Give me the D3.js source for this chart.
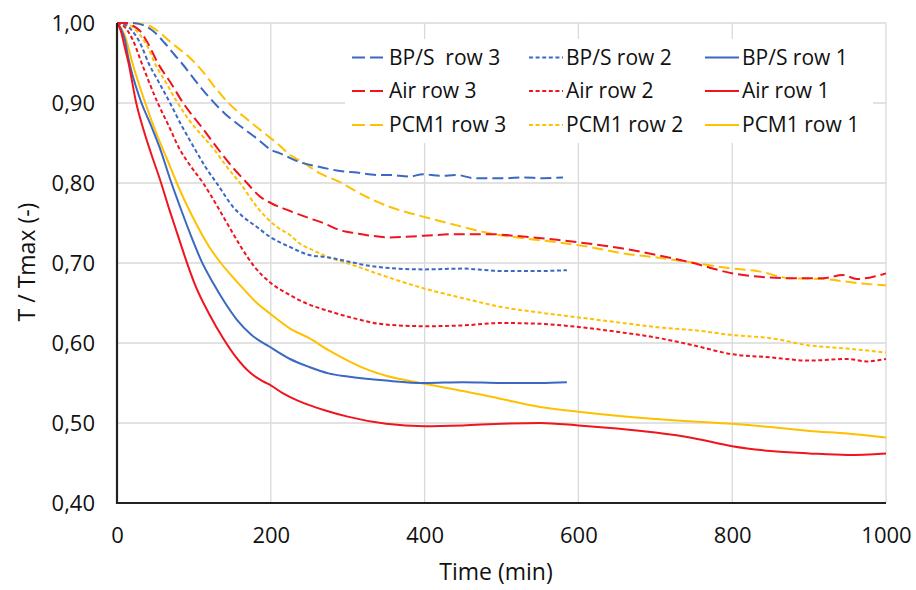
<!DOCTYPE html>
<html>
<head>
<meta charset="utf-8">
<script src="https://cdn.jsdelivr.net/npm/d3@7"></script>
<style>
  html, body { margin: 0; padding: 0; background: #fff; }
  svg { display: block; font-family: "Open Sans", "Noto Sans", sans-serif; }
</style>
</head>
<body>
<svg id="chart" width="916" height="590"></svg>
<script>
// ---------- DATA ----------
const xTicks = [0, 200, 400, 600, 800, 1000];
const yTicks = [0.40, 0.50, 0.60, 0.70, 0.80, 0.90, 1.00];

// BP/S row 3
const bps3T = [0, 20, 35, 47, 62, 75, 84, 101, 119, 140, 162, 184, 201, 212, 238, 264, 290, 312, 340, 355, 380, 398, 420, 442, 465, 485, 505, 528, 555, 580];
const bps3V = [1.0, 1.0, 0.997, 0.99, 0.975, 0.96, 0.95, 0.929, 0.908, 0.887, 0.87, 0.854, 0.841, 0.837, 0.826, 0.82, 0.815, 0.813, 0.81, 0.81, 0.808, 0.811, 0.809, 0.81, 0.806, 0.806, 0.806, 0.807, 0.806, 0.807];
// BP/S row 2
const bps2T = [0, 10, 20, 30, 41, 55, 69, 85, 101, 115, 131, 151, 165, 182, 200, 225, 250, 275, 300, 325, 350, 400, 450, 500, 550, 585];
const bps2V = [1.0, 0.998, 0.99, 0.975, 0.95, 0.925, 0.90, 0.87, 0.843, 0.82, 0.798, 0.77, 0.757, 0.745, 0.732, 0.72, 0.71, 0.707, 0.702, 0.697, 0.694, 0.692, 0.693, 0.69, 0.69, 0.691];
// BP/S row 1
const bps1T = [0, 5, 10, 15, 30, 45, 56, 69, 84, 97, 110, 125, 140, 156, 175, 199, 225, 250, 275, 300, 350, 400, 450, 500, 550, 585];
const bps1V = [1.0, 0.993, 0.98, 0.955, 0.905, 0.87, 0.843, 0.805, 0.765, 0.732, 0.702, 0.675, 0.651, 0.629, 0.61, 0.595, 0.58, 0.57, 0.562, 0.558, 0.553, 0.55, 0.551, 0.55, 0.55, 0.551];

// Air row 3
const air3T = [0, 10, 20, 30, 40, 53, 70, 86, 110, 131, 150, 169, 186, 200, 225, 250, 268, 290, 312, 340, 355, 398, 442, 485, 528, 572, 615, 658, 702, 745, 801, 832, 875, 918, 944, 962, 980, 1000];
const air3V = [1.0, 1.0, 0.997, 0.99, 0.975, 0.95, 0.925, 0.90, 0.87, 0.843, 0.82, 0.80, 0.783, 0.775, 0.765, 0.756, 0.75, 0.741, 0.737, 0.733, 0.732, 0.734, 0.736, 0.736, 0.733, 0.729, 0.724, 0.718, 0.71, 0.701, 0.687, 0.683, 0.681, 0.681, 0.685, 0.68, 0.682, 0.687];
// Air row 2
const air2T = [0, 10, 20, 32, 53, 68, 80, 95, 112, 128, 143, 160, 179, 200, 221, 250, 275, 300, 350, 400, 450, 500, 550, 600, 650, 700, 750, 800, 850, 900, 950, 975, 1000];
const air2V = [1.0, 0.995, 0.98, 0.95, 0.90, 0.87, 0.845, 0.822, 0.80, 0.775, 0.75, 0.722, 0.695, 0.675, 0.662, 0.648, 0.64, 0.633, 0.623, 0.621, 0.622, 0.625, 0.624, 0.62, 0.614, 0.607, 0.597, 0.586, 0.582, 0.578, 0.58, 0.577, 0.58];
// Air row 1
const air1T = [0, 5, 10, 15, 25, 35, 45, 56, 68, 80, 90, 101, 120, 138, 155, 173, 190, 200, 216, 235, 251, 270, 300, 350, 400, 450, 500, 550, 600, 650, 700, 750, 800, 850, 900, 950, 1000];
const air1V = [1.0, 0.99, 0.97, 0.95, 0.90, 0.865, 0.835, 0.804, 0.767, 0.732, 0.703, 0.674, 0.636, 0.606, 0.582, 0.563, 0.552, 0.547, 0.537, 0.528, 0.522, 0.516, 0.508, 0.499, 0.496, 0.497, 0.499, 0.50, 0.497, 0.493, 0.488, 0.481, 0.471, 0.465, 0.462, 0.46, 0.462];

// PCM1 row 3
const pcm3T = [0, 20, 35, 45, 53, 71, 93, 110, 127, 145, 170, 192, 210, 225, 238, 264, 290, 312, 335, 355, 398, 442, 485, 528, 572, 615, 658, 702, 745, 801, 832, 875, 918, 962, 1000];
const pcm3V = [1.0, 1.0, 0.998, 0.995, 0.99, 0.975, 0.958, 0.941, 0.92, 0.90, 0.879, 0.862, 0.848, 0.835, 0.828, 0.812, 0.801, 0.789, 0.778, 0.77, 0.758, 0.747, 0.737, 0.731, 0.726, 0.72, 0.712, 0.707, 0.701, 0.693, 0.69, 0.681, 0.68, 0.675, 0.672];
// PCM1 row 2
const pcm2T = [0, 10, 20, 30, 40, 49, 64, 79, 95, 110, 127, 143, 160, 182, 208, 225, 238, 255, 273, 305, 350, 400, 450, 500, 550, 600, 650, 700, 750, 800, 850, 900, 950, 1000];
const pcm2V = [1.0, 0.999, 0.995, 0.985, 0.97, 0.95, 0.925, 0.90, 0.877, 0.86, 0.841, 0.82, 0.80, 0.77, 0.745, 0.735, 0.724, 0.716, 0.708, 0.698, 0.683, 0.668, 0.656, 0.645, 0.638, 0.632, 0.626, 0.62, 0.616, 0.61, 0.606, 0.597, 0.593, 0.588];
// PCM1 row 1
const pcm1T = [0, 10, 20, 35, 50, 65, 80, 95, 108, 120, 135, 150, 165, 182, 200, 225, 250, 275, 300, 325, 350, 400, 450, 500, 550, 600, 650, 700, 750, 800, 850, 900, 950, 1000];
const pcm1V = [1.0, 0.985, 0.95, 0.905, 0.865, 0.83, 0.795, 0.764, 0.74, 0.72, 0.70, 0.683, 0.667, 0.65, 0.636, 0.618, 0.606, 0.591, 0.578, 0.567, 0.559, 0.549, 0.54, 0.53, 0.52, 0.514, 0.509, 0.505, 0.502, 0.499, 0.495, 0.49, 0.487, 0.482];

const seriesNames = ["BP/S  row 3", "BP/S row 2", "BP/S row 1",
                     "Air row 3", "Air row 2", "Air row 1",
                     "PCM1 row 3", "PCM1 row 2", "PCM1 row 1"];

// ---------- STYLE ----------
const BLUE = "#3b68c2", RED = "#f0141e", GOLD = "#ffc000";
const DASH_LONG = "11,5", DASH_SHORT = "4,2.6";

const series = [
  { name: seriesNames[0], t: bps3T, v: bps3V, color: BLUE, dash: DASH_LONG },
  { name: seriesNames[1], t: bps2T, v: bps2V, color: BLUE, dash: DASH_SHORT },
  { name: seriesNames[2], t: bps1T, v: bps1V, color: BLUE, dash: null },
  { name: seriesNames[3], t: air3T, v: air3V, color: RED, dash: DASH_LONG },
  { name: seriesNames[4], t: air2T, v: air2V, color: RED, dash: DASH_SHORT },
  { name: seriesNames[5], t: air1T, v: air1V, color: RED, dash: null },
  { name: seriesNames[6], t: pcm3T, v: pcm3V, color: GOLD, dash: DASH_LONG },
  { name: seriesNames[7], t: pcm2T, v: pcm2V, color: GOLD, dash: DASH_SHORT },
  { name: seriesNames[8], t: pcm1T, v: pcm1V, color: GOLD, dash: null }
];

// ---------- CHART ----------
const svg = d3.select("#chart");
const x = d3.scaleLinear().domain([0, 1000]).range([117, 886]);
const y = d3.scaleLinear().domain([0.4, 1.0]).range([503, 23]);

// gridlines
const grid = svg.append("g");
grid.selectAll("line.h").data(yTicks.filter(d => d > 0.4)).join("line")
  .attr("x1", x(0)).attr("x2", x(1000))
  .attr("y1", d => y(d)).attr("y2", d => y(d))
  .attr("stroke", "#d9d9d9").attr("stroke-width", 1.3);
grid.selectAll("line.v").data(xTicks.filter(d => d > 0)).join("line")
  .attr("x1", d => x(d)).attr("x2", d => x(d))
  .attr("y1", y(1.0)).attr("y2", y(0.4))
  .attr("stroke", "#d9d9d9").attr("stroke-width", 1.3);

// legend background (hides gridlines)
svg.append("rect").attr("x", 345).attr("y", 39).attr("width", 528).attr("height", 104).attr("fill", "#fff");

// lines
const lineGen = d3.line().x(d => x(d[0])).y(d => y(d[1])).curve(d3.curveMonotoneX);
const drawOrder = [8, 7, 6, 2, 1, 0, 5, 4, 3];
drawOrder.forEach(i => {
  const s = series[i];
  const pts = s.t.map((t, k) => [t, s.v[k]]);
  svg.append("path").datum(pts)
    .attr("d", lineGen)
    .attr("fill", "none")
    .attr("stroke", s.color)
    .attr("stroke-width", 2)
    .attr("stroke-dasharray", s.dash)
    .attr("stroke-linejoin", "round");
});

// axes lines
svg.append("line").attr("x1", x(0)).attr("x2", x(0)).attr("y1", y(1.0)).attr("y2", y(0.4) + 1)
  .attr("stroke", "#222").attr("stroke-width", 2.2);
svg.append("line").attr("x1", x(0) - 1).attr("x2", x(1000)).attr("y1", y(0.4)).attr("y2", y(0.4))
  .attr("stroke", "#222").attr("stroke-width", 2.2);

// y axis labels
const yAxis = d3.axisLeft(y).tickValues(yTicks).tickSize(0).tickPadding(22)
  .tickFormat(d => d3.format(".2f")(d).replace(".", ","));
const gy = svg.append("g").attr("transform", `translate(${x(0)},0)`).call(yAxis);
gy.select(".domain").remove();
gy.selectAll("text").attr("font-size", 22).attr("font-family", "'Open Sans', sans-serif")
  .attr("fill", "#111").attr("dy", "0.33em");

// x axis labels
const xAxis = d3.axisBottom(x).tickValues(xTicks).tickSize(0).tickFormat(d3.format("d"));
const gx = svg.append("g").attr("transform", `translate(0,${y(0.4)})`).call(xAxis);
gx.select(".domain").remove();
gx.selectAll("text").attr("font-size", 22).attr("font-family", "'Open Sans', sans-serif")
  .attr("fill", "#111").attr("y", 40).attr("dy", 0);

// axis titles
svg.append("text").attr("x", 496).attr("y", 580).attr("text-anchor", "middle")
  .attr("font-size", 23).attr("fill", "#111").text("Time (min)");
svg.append("text").attr("transform", "translate(35,262) rotate(-90)").attr("text-anchor", "middle")
  .attr("font-size", 23).attr("fill", "#111").text("T / Tmax (-)");

// legend
const legX = [352, 529, 705];
const legY = [57.5, 91, 125];
series.forEach((s, i) => {
  const col = i % 3, row = Math.floor(i / 3);
  const lx = legX[col], ly = legY[row];
  svg.append("line").attr("x1", lx).attr("x2", lx + 34).attr("y1", ly).attr("y2", ly)
    .attr("stroke", s.color).attr("stroke-width", 2)
    .attr("stroke-dasharray", s.dash === DASH_LONG ? "13,5" : s.dash);
  svg.append("text").attr("x", lx + 37).attr("y", ly).attr("dy", "0.35em")
    .attr("font-size", 21).attr("fill", "#111").style("white-space", "pre").text(s.name);
});
</script>
</body>
</html>
